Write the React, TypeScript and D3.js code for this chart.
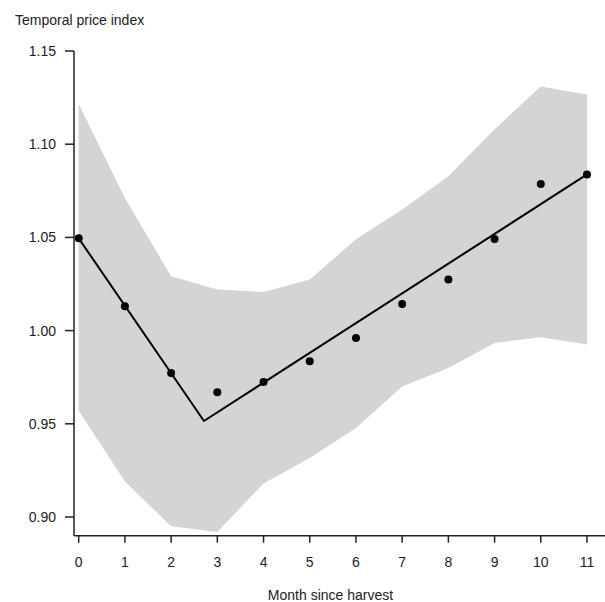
import React from 'react';
import * as d3 from 'd3';

// months since harvest
const months = [0, 1, 2, 3, 4, 5, 6, 7, 8, 9, 10, 11];
// observed temporal price index
const observed = [1.0495, 1.013, 0.9773, 0.9669, 0.9724, 0.9835, 0.996, 1.0143, 1.0274, 1.0491, 1.0787, 1.0837];
// confidence band
const upper = [1.1216, 1.0712, 1.0291, 1.022, 1.0207, 1.0274, 1.049, 1.065, 1.0828, 1.108, 1.131, 1.1266];
const lower = [0.957, 0.919, 0.895, 0.892, 0.918, 0.9317, 0.9478, 0.970, 0.980, 0.9934, 0.9964, 0.9925];
// piecewise linear fit (month, value)
const fitMonths = [0, 2.71, 11];
const fitValues = [1.0495, 0.9515, 1.0838];

const yTicks = [0.9, 0.95, 1.0, 1.05, 1.1, 1.15];

const font = '"Liberation Sans", Arial, sans-serif';

export default function App() {
  const width = 605;
  const height = 602;

  const x = d3.scaleLinear().domain([0, 11]).range([78.7, 587]);
  const y = d3.scaleLinear().domain([0.9, 1.15]).range([517, 51]);

  const axisX = 74;
  const axisY = 535.7;

  const band = d3.area<number>()
    .x((d) => x(d))
    .y0((d, i) => y(lower[i]))
    .y1((d, i) => y(upper[i]));

  const fitLine = d3.line<number>()
    .x((d) => x(d))
    .y((d, i) => y(fitValues[i]));

  return (
    <div style={{ position: 'fixed', left: 0, top: 0 }}>
      <svg width={width} height={height} style={{ display: 'block', background: '#fff' }}>
        <path d={band(months) || ''} fill="#d4d4d4" stroke="none" />
        <path d={fitLine(fitMonths) || ''} fill="none" stroke="#000" strokeWidth={2} />
        {months.map((m, i) => (
          <circle key={m} cx={x(m)} cy={y(observed[i])} r={4} fill="#000" />
        ))}

        {/* y axis */}
        <line x1={axisX} x2={axisX} y1={y(1.15)} y2={axisY} stroke="#222" strokeWidth={1.5} />
        {yTicks.map((t) => (
          <g key={t}>
            <line x1={axisX - 9} x2={axisX} y1={y(t)} y2={y(t)} stroke="#222" strokeWidth={1.5} />
            <text x={56} y={y(t) + 5} textAnchor="end" fontFamily={font} fontSize={14} fill="#222">
              {d3.format('.2f')(t)}
            </text>
          </g>
        ))}

        {/* x axis */}
        <line x1={axisX} x2={width} y1={axisY} y2={axisY} stroke="#222" strokeWidth={1.5} />
        {months.map((m) => (
          <g key={m}>
            <line x1={x(m)} x2={x(m)} y1={axisY} y2={axisY + 7} stroke="#222" strokeWidth={1.5} />
            <text x={x(m)} y={567} textAnchor="middle" fontFamily={font} fontSize={14} fill="#222">
              {m}
            </text>
          </g>
        ))}

        <text x={15} y={25} fontFamily={font} fontSize={14} fill="#222">Temporal price index</text>
        <text x={(axisX + 587) / 2} y={600} textAnchor="middle" fontFamily={font} fontSize={14} fill="#222">
          Month since harvest
        </text>
      </svg>
    </div>
  );
}
